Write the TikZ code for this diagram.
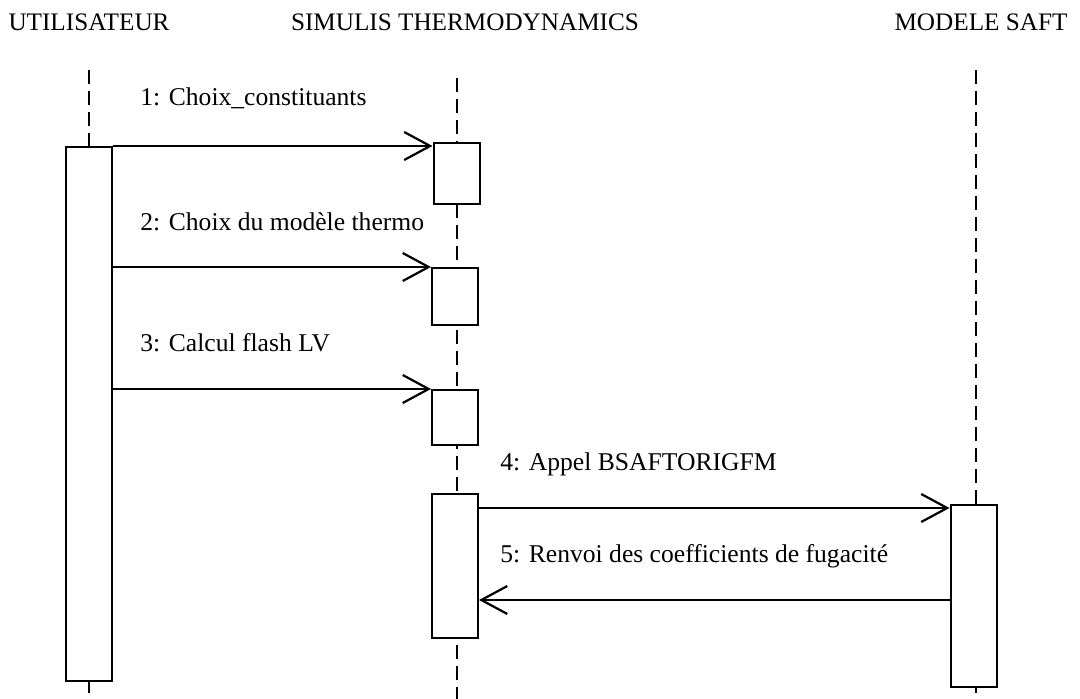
\documentclass[tikz,border=0pt]{standalone}
\usepackage{fontspec}
\setmainfont{Liberation Serif}
\usetikzlibrary{calc,positioning}
\usetikzlibrary{arrows.meta}
\tikzset{>={Straight Barb[width=14pt,length=13pt,line width=1.1pt]}}

\begin{document}
\begin{tikzpicture}[x=0.5pt,y=-0.5pt]
    \tikzstyle{head} = [inner sep=0pt, font=\fontsize{12.6}{15}\selectfont]
    \tikzstyle{lbl} = [inner sep=0pt, anchor=west, font=\fontsize{12.8}{15}\selectfont]
    \tikzstyle{act} = [draw=black, line width=1pt, fill=white, rectangle, inner sep=0pt, minimum width=23pt]
    \tikzstyle{lifeline} = [line width=1pt, dash pattern=on 7pt off 3.5pt]
    \tikzstyle{msg} = [->, line width=1.1pt]

    \useasboundingbox (0,0) rectangle (1080,699);

    % lifeline heads
    \node[head] (user) at (89,22) {UTILISATEUR};
    \node[head] (simulis) at (465,22) {SIMULIS THERMODYNAMICS};
    \node[head] (saft) at (981,22) {MODELE SAFT};

    \coordinate (user-top) at (89,70);
    \coordinate (user-end) at (89,699);
    \coordinate (simulis-top) at (457,78);
    \coordinate (simulis-end) at (457,699);
    \coordinate (saft-top) at (976,70);
    \coordinate (saft-end) at (976,699);

    % lifelines
    \draw[lifeline] (user-top) -- (user-end);
    \draw[lifeline] (simulis-top) -- (simulis-end);
    \draw[lifeline] (saft-top) -- (saft-end);

    % activations
    \node[act, minimum height=267pt] (actU) at (88.5,414) {};
    \node[act, minimum height=30.5pt] (act1) at (456.5,173.5) {};
    \node[act, minimum height=28.5pt] (act2) at (455,296.5) {};
    \node[act, minimum height=27.5pt] (act3) at (455,417.5) {};
    \node[act, minimum height=72pt] (act4) at (455,566) {};
    \node[act, minimum height=91pt] (act5) at (973.5,596) {};

    % messages
    \node[lbl] (m1) at (140,98) {1: Choix\_constituants};
    \node[lbl] (m2) at (140,222) {2: Choix du modèle thermo};
    \node[lbl] (m3) at (140,343) {3: Calcul flash LV};
    \node[lbl] (m4) at (500,464) {4: Appel BSAFTORIGFM};
    \node[lbl] (m5) at (500,556) {5: Renvoi des coefficients de fugacité};

    \draw[msg] (actU.north east) -- (actU.north east -| act1.west);
    \draw[msg] (act2.north west -| actU.east) -- (act2.north west);
    \draw[msg] (act3.north west -| actU.east) -- (act3.north west);
    \draw[msg] (act4.east |- 0,508) -- (act5.west |- 0,508);
    \draw[msg] (act5.west |- 0,600) -- (act4.east |- 0,600);

  \end{tikzpicture}
\end{document}
